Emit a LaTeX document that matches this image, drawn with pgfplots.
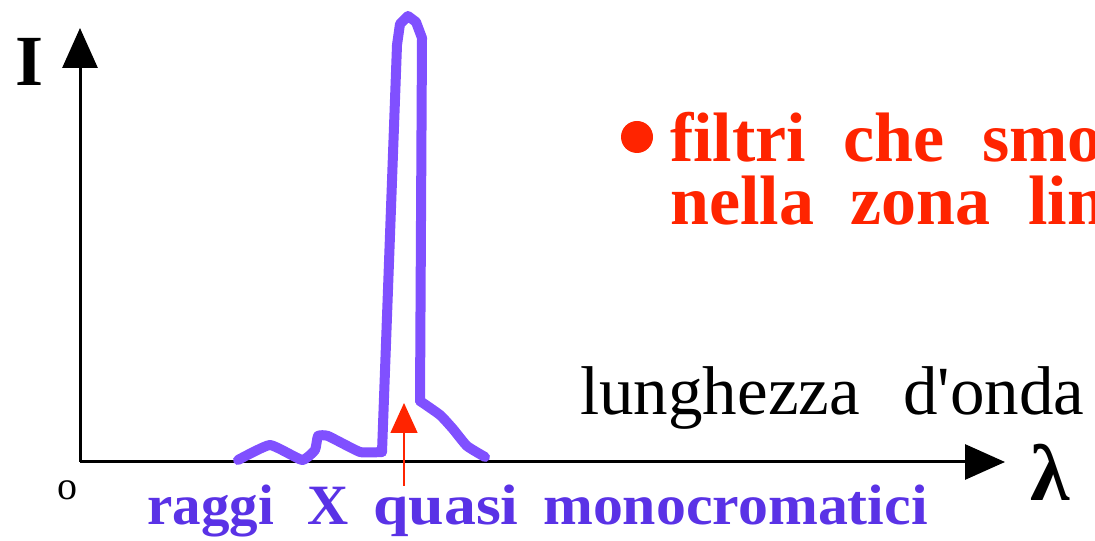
\documentclass[border=0pt]{standalone}
\usepackage{pgfplots}
\pgfplotsset{compat=1.18}
\usetikzlibrary{arrows.meta}
\usepackage{fontspec}
\setmainfont{Liberation Serif}
\newfontfamily\rawserif{Liberation Serif}
\definecolor{curve}{RGB}{128,80,255}
\definecolor{ptext}{RGB}{90,50,230}
\definecolor{rtext}{RGB}{255,36,0}
\tikzset{
  ptxt/.style={anchor=base west, inner sep=0pt, text=ptext, font=\fontsize{57bp}{60bp}\selectfont\bfseries},
  rtxt/.style={anchor=base west, inner sep=0pt, text=rtext, font=\fontsize{70bp}{74bp}\selectfont\bfseries},
  btxt/.style={anchor=base west, inner sep=0pt, font=\fontsize{69bp}{74bp}\selectfont\rawserif},
}
\begin{document}
\begin{tikzpicture}[x=1bp,y=1bp]
\useasboundingbox (0,0) rectangle (1095,541);
\clip (0,0) rectangle (1095,541);
\begin{axis}[
  at={(80bp,79bp)}, anchor=origin,
  scale only axis, width=925bp, height=434bp,
  xmin=0, xmax=925, ymin=0, ymax=434,
  axis lines=left,
  axis line style={line width=3bp, -{Triangle[length=40bp,width=35bp]}},
  xtick=\empty, ytick=\empty,
  clip=false,
]
\addplot[curve, line width=10bp, line join=round, line cap=round, smooth, tension=0.25] coordinates {
(158,2) (190,17) (222,2) (235,12) (238,26) (248,26) (280,10) (302,10)
};
\addplot[curve, line width=10bp, line join=round, line cap=round] coordinates {
(302,10) (317,417) (320,438) (328,446) (336,440) (342,424) (340,61)
};
\addplot[curve, line width=10bp, line join=round, line cap=round, smooth, tension=0.3] coordinates {
(340,61) (360,47) (373,33) (387,16) (405,5)
};
\draw[rtext, line width=1.5bp, -{Triangle[length=30bp,width=27bp]}] (axis cs:324,-24) -- (axis cs:324,59);
\node[font=\fontsize{72bp}{80bp}\selectfont\bfseries] at (axis cs:-50,400) {I};
\node[font=\fontsize{40bp}{44bp}\selectfont] at (axis cs:-13,-28) {o};
\node[font=\fontsize{80bp}{90bp}\selectfont\bfseries] at (axis cs:970,-10) {λ};
\node[btxt] at (axis cs:500,47) {lunghezza};
\node[btxt] at (axis cs:823,47) {d'onda};
\fill[rtext] (axis cs:557,325) circle[radius=16bp];
\node[rtxt] at (axis cs:590,300) {filtri};
\node[rtxt] at (axis cs:763,300) {che};
\node[rtxt] at (axis cs:902,300) {smorzano};
\node[rtxt] at (axis cs:590,237) {nella};
\node[rtxt] at (axis cs:770,237) {zona};
\node[rtxt] at (axis cs:948,237) {limite};
\node[ptxt] at (axis cs:67,-63) {raggi};
\node[ptxt] at (axis cs:227,-63) {X};
\node[ptxt] at (axis cs:293,-63) {\scalebox{1.12}[1]{quasi}};
\node[ptxt] at (axis cs:463,-63) {\scalebox{1.05}[1]{monocromatici}};
\end{axis}
\end{tikzpicture}
\end{document}
